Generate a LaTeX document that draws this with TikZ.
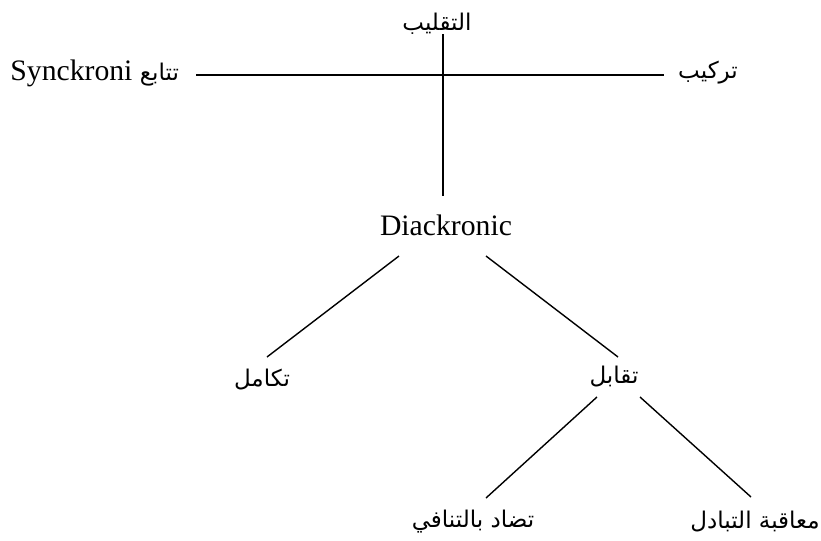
\documentclass[tikz,border=0pt]{standalone}
\usepackage{fontspec}
\setmainfont{Liberation Serif}
\newfontfamily\arabicfont[Script=Arabic]{DejaVu Sans}
\TeXXeTstate=1
\usetikzlibrary{calc}
\newcommand{\artext}[1]{{\arabicfont\fontsize{11.5}{14}\selectfont\beginR #1\endR}}
\tikzset{
  term/.style={inner sep=0pt},
  latin/.style={font=\fontsize{14.85}{18}\selectfont,inner sep=0pt},
  link/.style={line width=0.7pt,color=black}
}
\begin{document}
\begin{tikzpicture}[x=0.5pt,y=-0.5pt]
  \useasboundingbox (0,0) rectangle (821,541);
  % top cross
  \node[term] (tqlb) at (437,24) {\artext{التقليب}};
  \node[latin,anchor=west] (sync) at (10,73) {Synckroni \artext{تتابع}};
  \node[term] (trkb) at (708,73) {\artext{تركيب}};
  \coordinate (cross) at (443,75);
  \node[latin] (diack) at (446,225) {Diackronic};
  % lower tree
  \node[term] (takamul) at (262,380) {\artext{تكامل}};
  \node[term] (taqabul) at (614,377) {\artext{تقابل}};
  \node[term] (tadad) at (473,522) {\artext{تضاد بالتنافي}};
  \node[term] (muaqaba) at (755,522) {\artext{معاقبة التبادل}};
  \draw[link] ($(sync.east |- cross)+(17,0)$) -- ($(trkb.west |- cross)+(-14,0)$);
  \draw[link] ($(tqlb.center -| cross)+(0,10)$) -- ($(diack.center -| cross)+(0,-29)$);
  \draw[link] ($(diack.center)+(-47,31)$) -- ($(takamul.center)+(5,-23)$);
  \draw[link] ($(diack.center)+(40,31)$) -- ($(taqabul.center)+(4,-20)$);
  \draw[link] ($(taqabul.center)+(-17,20)$) -- ($(tadad.center)+(13,-24)$);
  \draw[link] ($(taqabul.center)+(26,20)$) -- ($(muaqaba.center)+(-4,-25)$);
\end{tikzpicture}
\end{document}
